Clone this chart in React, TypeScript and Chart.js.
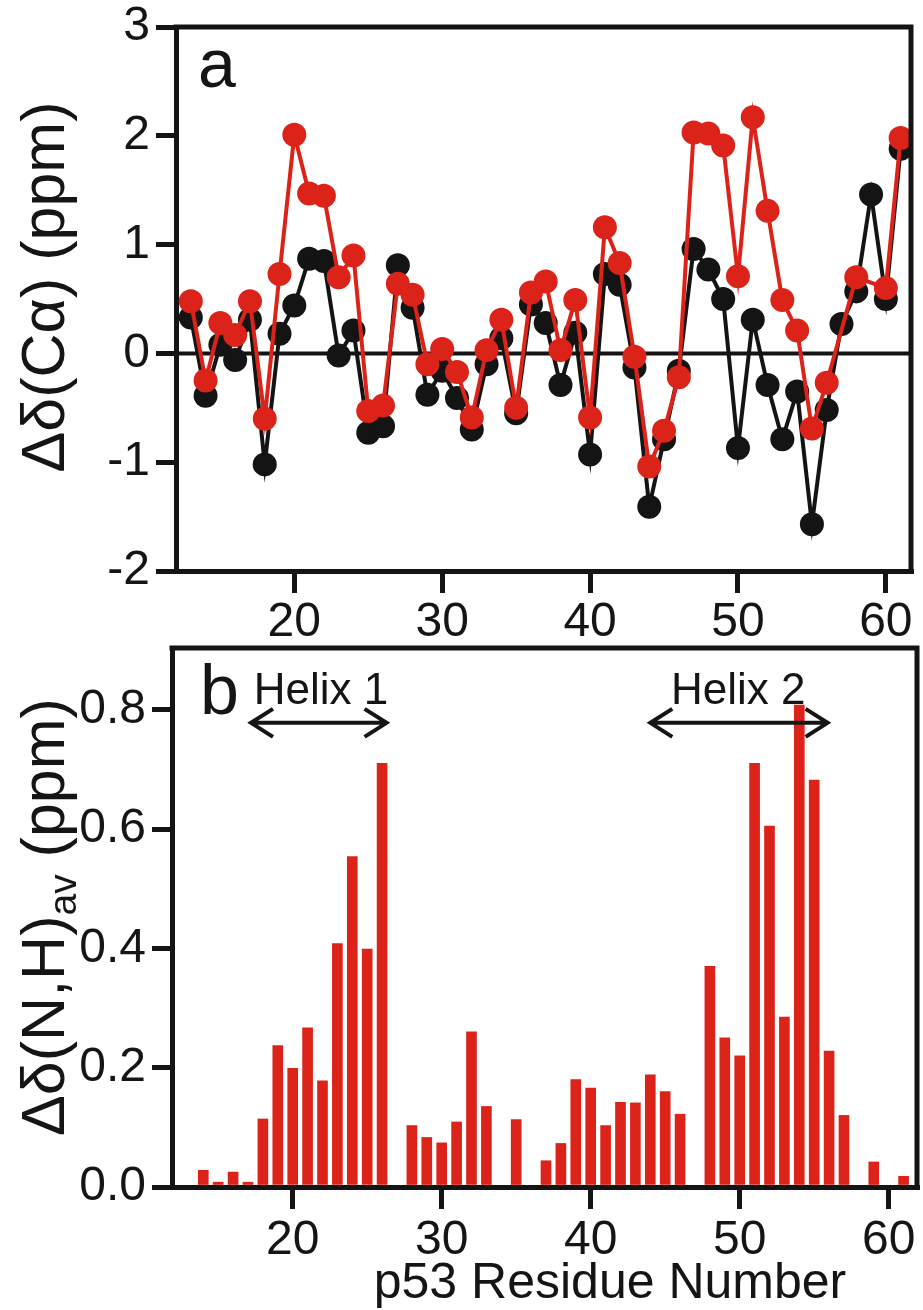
import React, { useEffect, useRef } from "react";
import { Chart, registerables } from "chart.js";

Chart.register(...registerables);

// ---------- data ----------
const residuesA = [13, 14, 15, 16, 17, 18, 19, 20, 21, 22, 23, 24, 25, 26, 27, 28, 29, 30, 31, 32, 33, 34, 35, 36, 37, 38, 39, 40, 41, 42, 43, 44, 45, 46, 47, 48, 49, 50, 51, 52, 53, 54, 55, 56, 57, 58, 59, 60, 61];
const blackShiftA = [0.33, -0.39, 0.08, -0.06, 0.31, -1.02, 0.18, 0.44, 0.87, 0.85, -0.02, 0.21, -0.73, -0.67, 0.81, 0.42, -0.38, -0.16, -0.41, -0.7, -0.1, 0.14, -0.55, 0.45, 0.28, -0.29, 0.19, -0.93, 0.73, 0.63, -0.13, -1.41, -0.79, -0.16, 0.96, 0.77, 0.5, -0.87, 0.31, -0.29, -0.79, -0.35, -1.57, -0.52, 0.27, 0.57, 1.46, 0.5, 1.88];
const redShiftA = [0.48, -0.25, 0.28, 0.17, 0.48, -0.6, 0.73, 2.01, 1.47, 1.45, 0.7, 0.9, -0.53, -0.48, 0.64, 0.54, -0.1, 0.04, -0.17, -0.59, 0.03, 0.31, -0.5, 0.56, 0.66, 0.03, 0.49, -0.59, 1.16, 0.83, -0.03, -1.04, -0.71, -0.22, 2.03, 2.02, 1.91, 0.71, 2.17, 1.31, 0.49, 0.21, -0.69, -0.27, null, 0.7, null, 0.6, 1.98];

const residuesB = [14, 15, 16, 17, 18, 19, 20, 21, 22, 23, 24, 25, 26, 28, 29, 30, 31, 32, 33, 35, 37, 38, 39, 40, 41, 42, 43, 44, 45, 46, 48, 49, 50, 51, 52, 53, 54, 55, 56, 57, 59, 61];
const nhShiftB = [0.028, 0.008, 0.025, 0.008, 0.114, 0.237, 0.199, 0.267, 0.178, 0.408, 0.554, 0.399, 0.71, 0.103, 0.083, 0.074, 0.109, 0.26, 0.135, 0.113, 0.044, 0.073, 0.18, 0.166, 0.103, 0.142, 0.141, 0.188, 0.16, 0.122, 0.37, 0.25, 0.22, 0.71, 0.605, 0.285, 0.808, 0.682, 0.228, 0.12, 0.042, 0.018];

const xTickValues = [20, 30, 40, 50, 60];
const yTickValuesA = [-2, -1, 0, 1, 2, 3];
const yTickValuesB = [0, 0.2, 0.4, 0.6, 0.8];

const helixLabels = ["Helix 1", "Helix 2"];
const helixStart = [17.2, 44.0];
const helixEnd = [26.3, 55.9];
const helixLabelX = [21.9, 49.9];
const helixArrowY = 0.778;

const titleA = "Δδ(Cα) (ppm)";
const titleBMain = "Δδ(N,H)";
const titleBSub = "av";
const titleBTail = " (ppm)";
const titleX = "p53 Residue Number";

// ---------- styles ----------
const FONT = '"Liberation Sans", Arial, Helvetica, sans-serif';
const RED = "#dc2319";
const BLACK = "#141414";
const INK = "#151515";

function drawFrame(chart: any) {
  const { ctx, chartArea } = chart;
  ctx.save();
  ctx.strokeStyle = BLACK;
  ctx.lineWidth = 5;
  ctx.lineCap = "square";
  ctx.beginPath();
  ctx.moveTo(chartArea.left, chartArea.top);
  ctx.lineTo(chartArea.right, chartArea.top);
  ctx.lineTo(chartArea.right, chartArea.bottom);
  ctx.stroke();
  ctx.restore();
}

function drawRotated(ctx: CanvasRenderingContext2D, cx: number, cy: number, fn: () => void) {
  ctx.save();
  ctx.translate(cx, cy);
  ctx.rotate(-Math.PI / 2);
  fn();
  ctx.restore();
}

const panelAPlugin = {
  id: "panelA",
  beforeDatasetsDraw(chart: any) {
    const { ctx, chartArea, scales } = chart;
    const y0 = scales.y.getPixelForValue(0);
    ctx.save();
    ctx.strokeStyle = BLACK;
    ctx.lineWidth = 4;
    ctx.beginPath();
    ctx.moveTo(chartArea.left, y0);
    ctx.lineTo(chartArea.right, y0);
    ctx.stroke();
    ctx.restore();
  },
  afterDraw(chart: any) {
    const { ctx } = chart;
    drawFrame(chart);
    ctx.save();
    ctx.fillStyle = INK;
    ctx.font = `68px ${FONT}`;
    ctx.textAlign = "left";
    ctx.textBaseline = "alphabetic";
    ctx.fillText("a", 198, 87);
    drawRotated(ctx, 43, 287, () => {
      ctx.font = `61px ${FONT}`;
      ctx.textAlign = "center";
      ctx.textBaseline = "alphabetic";
      ctx.fillText(titleA, 0, 21);
    });
    ctx.restore();
  },
};

function drawDoubleArrow(ctx: CanvasRenderingContext2D, x1: number, x2: number, y: number) {
  const hw = 22;
  const hh = 14;
  ctx.beginPath();
  ctx.moveTo(x1, y);
  ctx.lineTo(x2, y);
  ctx.moveTo(x1 + hw, y - hh);
  ctx.lineTo(x1, y);
  ctx.lineTo(x1 + hw, y + hh);
  ctx.moveTo(x2 - hw, y - hh);
  ctx.lineTo(x2, y);
  ctx.lineTo(x2 - hw, y + hh);
  ctx.stroke();
}

const panelBPlugin = {
  id: "panelB",
  afterDraw(chart: any) {
    const { ctx, scales } = chart;
    drawFrame(chart);
    ctx.save();
    ctx.fillStyle = INK;
    ctx.strokeStyle = INK;
    ctx.lineWidth = 4;
    ctx.lineJoin = "miter";
    ctx.font = `70px ${FONT}`;
    ctx.textAlign = "left";
    ctx.textBaseline = "alphabetic";
    ctx.fillText("b", 200, 72);

    const ay = scales.y.getPixelForValue(helixArrowY);
    ctx.font = `44px ${FONT}`;
    ctx.textAlign = "center";
    for (let i = 0; i < helixLabels.length; i++) {
      const x1 = scales.x.getPixelForValue(helixStart[i]);
      const x2 = scales.x.getPixelForValue(helixEnd[i]);
      drawDoubleArrow(ctx, x1, x2, ay);
      ctx.fillText(helixLabels[i], scales.x.getPixelForValue(helixLabelX[i]), ay - 19);
    }

    // y title with subscript
    drawRotated(ctx, 43, 275, () => {
      const big = `61px ${FONT}`;
      const small = `39px ${FONT}`;
      ctx.font = big;
      const w1 = ctx.measureText(titleBMain).width;
      const w3 = ctx.measureText(titleBTail).width;
      ctx.font = small;
      const w2 = ctx.measureText(titleBSub).width;
      const total = w1 + w2 + w3;
      let x = -total / 2;
      ctx.textAlign = "left";
      ctx.textBaseline = "alphabetic";
      ctx.font = big;
      ctx.fillText(titleBMain, x, 21);
      x += w1;
      ctx.font = small;
      ctx.fillText(titleBSub, x, 33);
      x += w2;
      ctx.font = big;
      ctx.fillText(titleBTail, x, 21);
    });

    ctx.font = `50px ${FONT}`;
    ctx.textAlign = "center";
    ctx.textBaseline = "alphabetic";
    ctx.fillText(titleX, 610, 656);
    ctx.restore();
  },
};

const tickFont = { family: FONT, size: 48 };

function fixedTicks(values: number[]) {
  return (scale: any) => {
    scale.ticks = values.map((v) => ({ value: v }));
  };
}

function fixWidth(w: number) {
  return (scale: any) => {
    scale.width = w;
    scale.paddingTop = 0;
    scale.paddingBottom = 0;
    scale.paddingLeft = 0;
    scale.paddingRight = 0;
  };
}

function fixHeight(h: number) {
  return (scale: any) => {
    scale.height = h;
    scale.paddingTop = 0;
    scale.paddingBottom = 0;
    scale.paddingLeft = 0;
    scale.paddingRight = 0;
  };
}

const HA = 642;
const HB = 668;

export default function App() {
  const refA = useRef<HTMLCanvasElement>(null);
  const refB = useRef<HTMLCanvasElement>(null);

  useEffect(() => {
    const axisCommon = (tickLength: number) => ({
      grid: {
        display: true,
        drawOnChartArea: false,
        drawTicks: true,
        tickLength,
        tickWidth: 5,
        tickColor: BLACK,
        lineWidth: 5,
        color: BLACK,
        offset: false,
      },
      border: { display: true, color: BLACK, width: 5 },
    });

    const chartA = new Chart(refA.current as HTMLCanvasElement, {
      type: "line",
      data: {
        datasets: [
          {
            label: "red",
            data: residuesA.map((r, i) => ({ x: r, y: redShiftA[i] })),
            borderColor: RED,
            backgroundColor: RED,
            pointBackgroundColor: RED,
            pointBorderColor: RED,
            borderWidth: 4,
            pointRadius: 12,
            pointBorderWidth: 0,
            spanGaps: true,
            tension: 0,
            clip: false,
          } as any,
          {
            label: "black",
            data: residuesA.map((r, i) => ({ x: r, y: blackShiftA[i] })),
            borderColor: BLACK,
            backgroundColor: BLACK,
            pointBackgroundColor: BLACK,
            pointBorderColor: BLACK,
            borderWidth: 4,
            pointRadius: 12,
            pointBorderWidth: 0,
            tension: 0,
            clip: false,
          } as any,
        ],
      },
      options: {
        animation: false,
        responsive: false,
        maintainAspectRatio: false,
        layout: { padding: { top: 27, right: 5, bottom: 0, left: 0 } },
        plugins: { legend: { display: false }, tooltip: { enabled: false } },
        scales: {
          x: {
            type: "linear",
            min: 12,
            max: 61.7,
            ...axisCommon(22),
            afterBuildTicks: fixedTicks(xTickValues),
            afterFit: fixHeight(HA - 571),
            ticks: {
              autoSkip: false,
              maxRotation: 0,
              padding: 1,
              color: INK,
              font: tickFont,
              callback: (v: any) => String(v),
            },
          },
          y: {
            type: "linear",
            min: -2,
            max: 3,
            ...axisCommon(20),
            afterBuildTicks: fixedTicks(yTickValuesA),
            afterFit: fixWidth(176),
            ticks: {
              padding: 6,
              color: INK,
              font: tickFont,
              callback: (v: any) => String(v),
            },
          },
        },
      } as any,
      plugins: [panelAPlugin],
    });

    const chartB = new Chart(refB.current as HTMLCanvasElement, {
      type: "bar",
      data: {
        datasets: [
          {
            label: "NH",
            data: residuesB.map((r, i) => ({ x: r, y: nhShiftB[i] })),
            backgroundColor: RED,
            borderWidth: 0,
            barThickness: 10,
          } as any,
        ],
      },
      options: {
        animation: false,
        responsive: false,
        maintainAspectRatio: false,
        layout: { padding: { top: 6, right: 6, bottom: 0, left: 0 } },
        plugins: { legend: { display: false }, tooltip: { enabled: false } },
        scales: {
          x: {
            type: "linear",
            min: 11.9,
            max: 61.9,
            offset: false,
            ...axisCommon(22),
            afterBuildTicks: fixedTicks(xTickValues),
            afterFit: fixHeight(HB - 545),
            ticks: {
              autoSkip: false,
              maxRotation: 0,
              padding: 3,
              color: INK,
              font: tickFont,
              callback: (v: any) => String(v),
            },
          },
          y: {
            type: "linear",
            min: 0,
            max: 0.9035,
            ...axisCommon(20),
            afterBuildTicks: fixedTicks(yTickValuesB),
            afterFit: fixWidth(172),
            ticks: {
              padding: 6,
              color: INK,
              font: tickFont,
              callback: (v: any) => Number(v).toFixed(1),
            },
          },
        },
      } as any,
      plugins: [panelBPlugin],
    });

    return () => {
      chartA.destroy();
      chartB.destroy();
    };
  }, []);

  return (
    <div style={{ position: "absolute", left: 0, top: 0, width: 923, height: 1310, background: "#fff" }}>
      <canvas
        ref={refA}
        width={923}
        height={HA}
        style={{ position: "absolute", left: 0, top: 0, width: 923, height: HA }}
      />
      <canvas
        ref={refB}
        width={923}
        height={HB}
        style={{ position: "absolute", left: 0, top: HA, width: 923, height: HB }}
      />
    </div>
  );
}
